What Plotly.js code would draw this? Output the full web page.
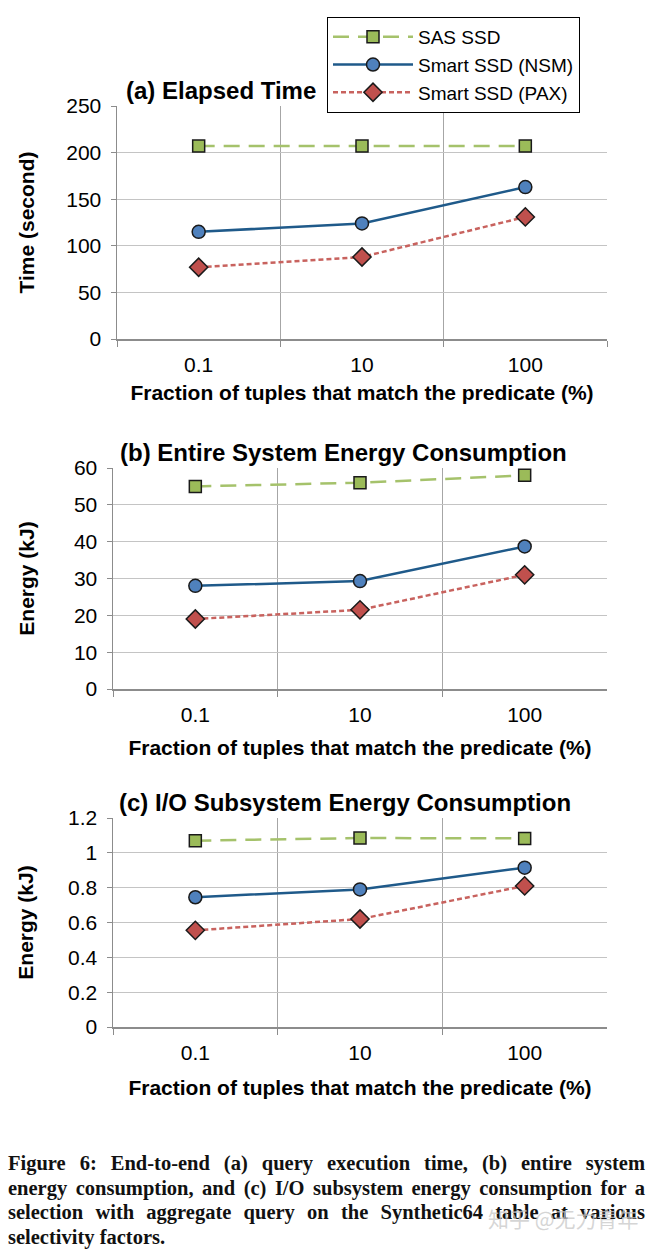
<!DOCTYPE html>
<html>
<head>
<meta charset="utf-8">
<script src="https://cdn.plot.ly/plotly-3.0.1.min.js"></script>
<style>
  html, body { margin: 0; padding: 0; background: #fff; }
  #wrap { position: relative; width: 652px; height: 1251px; overflow: hidden; }
  #chart { position: absolute; left: 0; top: 0; width: 652px; height: 1251px; }
  #caption { position: absolute; left: 8px; top: 1151px; width: 637px;
    font-family: "Liberation Serif", "Times New Roman", serif; font-weight: bold;
    font-size: 20.5px; line-height: 24.5px; color: #111; }
  #caption .ln { text-align: justify; text-align-last: justify; white-space: nowrap; }
  #caption .last { text-align: left; text-align-last: left; }
  #wm { position: absolute; left: 488px; top: 1203px; font-family: "Noto Sans CJK SC", sans-serif;
    font-size: 21px; color: rgba(200,200,200,0.75); }
</style>
</head>
<body>
<div id="wrap">
  <div id="chart"></div>
  <div id="caption">
    <div class="ln">Figure 6: End-to-end (a) query execution time, (b) entire system</div>
    <div class="ln">energy consumption, and (c) I/O subsystem energy consumption for a</div>
    <div class="ln">selection with aggregate query on the Synthetic64 table at various</div>
    <div class="ln last">selectivity factors.</div>
  </div>
  <div id="wm">知乎 @无力青年</div>
</div>
<script>
// ---- data ----
const categories = ['0.1', '10', '100'];
const seriesNames = ['SAS SSD', 'Smart SSD (NSM)', 'Smart SSD (PAX)'];

const timeSAS = [207, 207, 207];
const timeNSM = [115, 124, 163];
const timePAX = [77, 88, 131];

const sysSAS = [55, 56, 58];
const sysNSM = [28, 29.3, 38.7];
const sysPAX = [19, 21.5, 31];

const ioSAS = [1.07, 1.085, 1.083];
const ioNSM = [0.745, 0.79, 0.915];
const ioPAX = [0.555, 0.62, 0.81];

const panelTitles = ['(a) Elapsed Time', '(b) Entire System Energy Consumption', '(c) I/O Subsystem Energy Consumption'];
const yTitles = ['Time (second)', 'Energy (kJ)', 'Energy (kJ)'];
const xTitle = 'Fraction of tuples that match the predicate (%)';

// ---- styles ----
const W = 652, H = 1251;
const FONT = '"Liberation Sans", Arial, sans-serif';
const styles = [
  { line: { color: '#A5C26B', width: 2.5, dash: '16px,9px' },
    marker: { symbol: 'square', size: 12, color: '#9BBB59', line: { color: '#1a1a1a', width: 1.5 } } },
  { line: { color: '#1F5A8A', width: 2.5, dash: 'solid' },
    marker: { symbol: 'circle', size: 13, color: '#4F81BD', line: { color: '#1a1a1a', width: 1.5 } } },
  { line: { color: '#C8625E', width: 2.5, dash: '5px,3px' },
    marker: { symbol: 'diamond', size: 14, color: '#C0504D', line: { color: '#1a1a1a', width: 1.5 } } }
];

const panels = [
  { data: [timeSAS, timeNSM, timePAX], range: [0, 250], dtick: 50, px: [117, 607], py: [106, 339], ys: 26, xs: 10 },
  { data: [sysSAS, sysNSM, sysPAX], range: [0, 60], dtick: 10, px: [113, 607], py: [468, 689], ys: 33, xs: 15 },
  { data: [ioSAS, ioNSM, ioPAX], range: [0, 1.2], dtick: 0.2, px: [113, 607], py: [818, 1027], ys: 28, xs: 17 }
];

const traces = [];
const layout = {
  width: W, height: H,
  margin: { l: 0, r: 0, t: 0, b: 0 },
  paper_bgcolor: '#fff', plot_bgcolor: '#fff',
  font: { family: FONT, color: '#000', size: 20 },
  showlegend: true,
  legend: {
    x: 327 / W, y: 1 - 17 / H, xanchor: 'left', yanchor: 'top',
    bordercolor: '#000', borderwidth: 1, bgcolor: '#fff',
    font: { family: FONT, size: 19, color: '#000' },
    tracegroupgap: 0, itemwidth: 80, entrywidth: 262, entrywidthmode: 'pixels'
  },
  annotations: []
};

panels.forEach((p, i) => {
  const sfx = i === 0 ? '' : String(i + 1);
  p.data.forEach((vals, k) => {
    traces.push({
      type: 'scatter', mode: 'lines+markers',
      x: categories, y: vals, name: seriesNames[k],
      xaxis: 'x' + sfx, yaxis: 'y' + sfx,
      showlegend: i === 0, legendgroup: seriesNames[k],
      line: styles[k].line, marker: styles[k].marker
    });
  });
  layout['xaxis' + sfx] = {
    type: 'category', domain: [p.px[0] / W, p.px[1] / W], anchor: 'y' + sfx,
    range: [-0.5, 2.5], tickson: 'boundaries', ticks: 'outside', ticklen: 6,
    tickcolor: '#8c8c8c', showline: true, linecolor: '#8c8c8c', linewidth: 1.5,
    showgrid: true, gridcolor: '#a6a6a6', gridwidth: 1.2, zeroline: false,
    tickfont: { family: FONT, size: 21, color: '#000' }, ticklabelstandoff: 6,
    title: { text: '<b>' + xTitle + '</b>', font: { family: FONT, size: 21, color: '#000' }, standoff: p.xs },
    automargin: false, fixedrange: true
  };
  layout['yaxis' + sfx] = {
    domain: [1 - p.py[1] / H, 1 - p.py[0] / H], anchor: 'x' + sfx,
    range: p.range, dtick: p.dtick, tick0: 0, ticks: 'outside', ticklen: 5,
    tickcolor: '#8c8c8c', showline: true, linecolor: '#8c8c8c', linewidth: 1.5,
    showgrid: true, gridcolor: '#c4c4c4', gridwidth: 1.2, zeroline: false,
    tickfont: { family: FONT, size: 21, color: '#000' }, ticklabelstandoff: 5,
    title: { text: '<b>' + yTitles[i] + '</b>', font: { family: FONT, size: 21, color: '#000' }, standoff: p.ys },
    automargin: false, fixedrange: true
  };
});

// panel titles
layout.annotations.push(
  { text: '<b>' + panelTitles[0] + '</b>', xref: 'paper', yref: 'paper', x: 124 / W, y: 1 - 90 / H,
    xanchor: 'left', yanchor: 'middle', showarrow: false, font: { family: FONT, size: 24, color: '#000' } },
  { text: '<b>' + panelTitles[1] + '</b>', xref: 'paper', yref: 'paper', x: 343 / W, y: 1 - 452 / H,
    xanchor: 'center', yanchor: 'middle', showarrow: false, font: { family: FONT, size: 24, color: '#000' } },
  { text: '<b>' + panelTitles[2] + '</b>', xref: 'paper', yref: 'paper', x: 345 / W, y: 1 - 802 / H,
    xanchor: 'center', yanchor: 'middle', showarrow: false, font: { family: FONT, size: 24, color: '#000' } }
);

Plotly.newPlot('chart', traces, layout, { displayModeBar: false, staticPlot: true });
</script>
</body>
</html>
